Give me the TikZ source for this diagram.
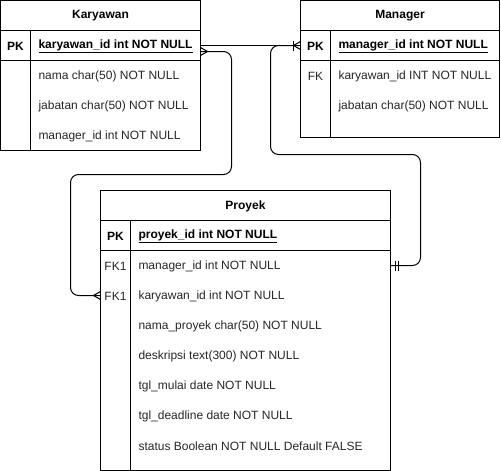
\documentclass[tikz,border=0pt]{standalone}
\usepackage{fontspec}
\setmainfont{Liberation Sans}
\begin{document}
\begin{tikzpicture}[x=1pt,y=-1pt,line width=1pt,
  box/.style={draw,rectangle,inner sep=0pt,outer sep=0pt,anchor=north west},
  rowbox/.style={rectangle,inner sep=0pt,outer sep=0pt,anchor=north west,minimum height=30pt},
  title/.style={font=\fontsize{12}{14}\selectfont\bfseries,inner sep=0pt},
  keytxt/.style={font=\fontsize{12}{14}\selectfont\bfseries,inner sep=0pt,anchor=west},
  fktxt/.style={font=\fontsize{12}{14}\selectfont,text=black!85,inner sep=0pt},
  rowtxt/.style={font=\fontsize{12}{14}\selectfont,text=black!85,inner sep=0pt,anchor=west},
  conn/.style={draw,line width=1pt,rounded corners=8pt},
  ermark/.style={draw,line width=1pt}]
\useasboundingbox (0,0) rectangle (501,471);

% ---------- Karyawan ----------
\node[box,minimum width=200pt,minimum height=150pt] (kar) at (0.5,0.5) {};
\draw (0.5,30.5) -- (200.5,30.5);
\draw (0.5,60.5) -- (200.5,60.5);
\draw (30.5,30.5) -- (30.5,150.5);
\node[title] (kart) at (100.5,16) {Karyawan};
\node[rowbox,minimum width=200pt] (kpk) at (0.5,30.5) {};
\node[title] (kpkl) at (15.5,46) {PK};
\node[keytxt] (kpkt) at (38,46) {\underline{karyawan\_id int NOT NULL}};
\node[rowtxt] (kr1) at (38,76) {nama char(50) NOT NULL};
\node[rowtxt] (kr2) at (38,106) {jabatan char(50) NOT NULL};
\node[rowtxt] (kr3) at (38,136) {manager\_id int NOT NULL};

% ---------- Manager ----------
\node[box,minimum width=199pt,minimum height=137pt] (man) at (300.5,0.5) {};
\draw (300.5,30.5) -- (499.5,30.5);
\draw (300.5,60.5) -- (499.5,60.5);
\draw (330.5,30.5) -- (330.5,137.5);
\node[title] (mant) at (400,16) {Manager};
\node[rowbox,minimum width=199pt] (mpk) at (300.5,30.5) {};
\node[title] (mpkl) at (315.5,46) {PK};
\node[keytxt] (mpkt) at (338,46) {\underline{manager\_id int NOT NULL}};
\node[fktxt] (mfk) at (315.5,76) {FK};
\node[rowtxt] (mr1) at (338,76) {karyawan\_id INT NOT NULL};
\node[rowtxt] (mr2) at (338,106) {jabatan char(50) NOT NULL};

% ---------- Proyek ----------
\node[box,minimum width=290pt,minimum height=279.5pt] (pro) at (100.5,190.5) {};
\draw (100.5,220.5) -- (390.5,220.5);
\draw (100.5,250.5) -- (390.5,250.5);
\draw (130.5,220.5) -- (130.5,470);
\node[title] (prot) at (245.5,206) {Proyek};
\node[rowbox,minimum width=290pt] (ppk) at (100.5,220.5) {};
\node[rowbox,minimum width=290pt] (pfk1) at (100.5,250.5) {};
\node[rowbox,minimum width=290pt] (pfk2) at (100.5,280.5) {};
\node[title] (ppkl) at (115.5,236) {PK};
\node[keytxt] (ppkt) at (138,236) {\underline{proyek\_id int NOT NULL}};
\node[fktxt] (pf1) at (115.5,266) {FK1};
\node[fktxt] (pf2) at (115.5,296) {FK1};
\node[rowtxt] (pr1) at (138,266) {manager\_id int NOT NULL};
\node[rowtxt] (pr2) at (138,296) {karyawan\_id int NOT NULL};
\node[rowtxt] (pr3) at (138,326) {nama\_proyek char(50) NOT NULL};
\node[rowtxt] (pr4) at (138,356) {deskripsi text(300) NOT NULL};
\node[rowtxt] (pr5) at (138,386) {tgl\_mulai date NOT NULL};
\node[rowtxt] (pr6) at (138,416) {tgl\_deadline date NOT NULL};
\node[rowtxt] (pr7) at (138,446) {status Boolean NOT NULL Default FALSE};

% ---------- connectors ----------
\coordinate (kp1) at (231.5,174.5);
\coordinate (kp2) at (70.5,174.5);
\coordinate (mp1) at (270.5,154.5);
\coordinate (mp2) at (420.5,154.5);

% Karyawan -- Manager
\draw[conn] (kpk.east) -- (mpk.west);
\draw[ermark] ([xshift=-7pt,yshift=5pt]mpk.west) -- ([xshift=-7pt,yshift=-5pt]mpk.west);
\draw[ermark] ([yshift=4pt]mpk.west) -- ([xshift=-7pt]mpk.west) -- ([yshift=-4pt]mpk.west);

% Karyawan -- Proyek
\draw[conn] ([yshift=-6pt]kpk.east) -| (kp1) -- (kp2) |- (pfk2.west);
\draw[ermark] ([yshift=-2pt]kpk.east) -- ([xshift=7pt,yshift=-6pt]kpk.east) -- ([yshift=-10pt]kpk.east);
\draw[ermark] ([yshift=4pt]pfk2.west) -- ([xshift=-7pt]pfk2.west) -- ([yshift=-4pt]pfk2.west);

% Manager -- Proyek
\draw[conn] (mpk.west) -| (mp1) -- (mp2) |- (pfk1.east);
\draw[ermark] ([xshift=5pt,yshift=5pt]pfk1.east) -- ([xshift=5pt,yshift=-5pt]pfk1.east);
\draw[ermark] ([xshift=8pt,yshift=5pt]pfk1.east) -- ([xshift=8pt,yshift=-5pt]pfk1.east);
\end{tikzpicture}
\end{document}
